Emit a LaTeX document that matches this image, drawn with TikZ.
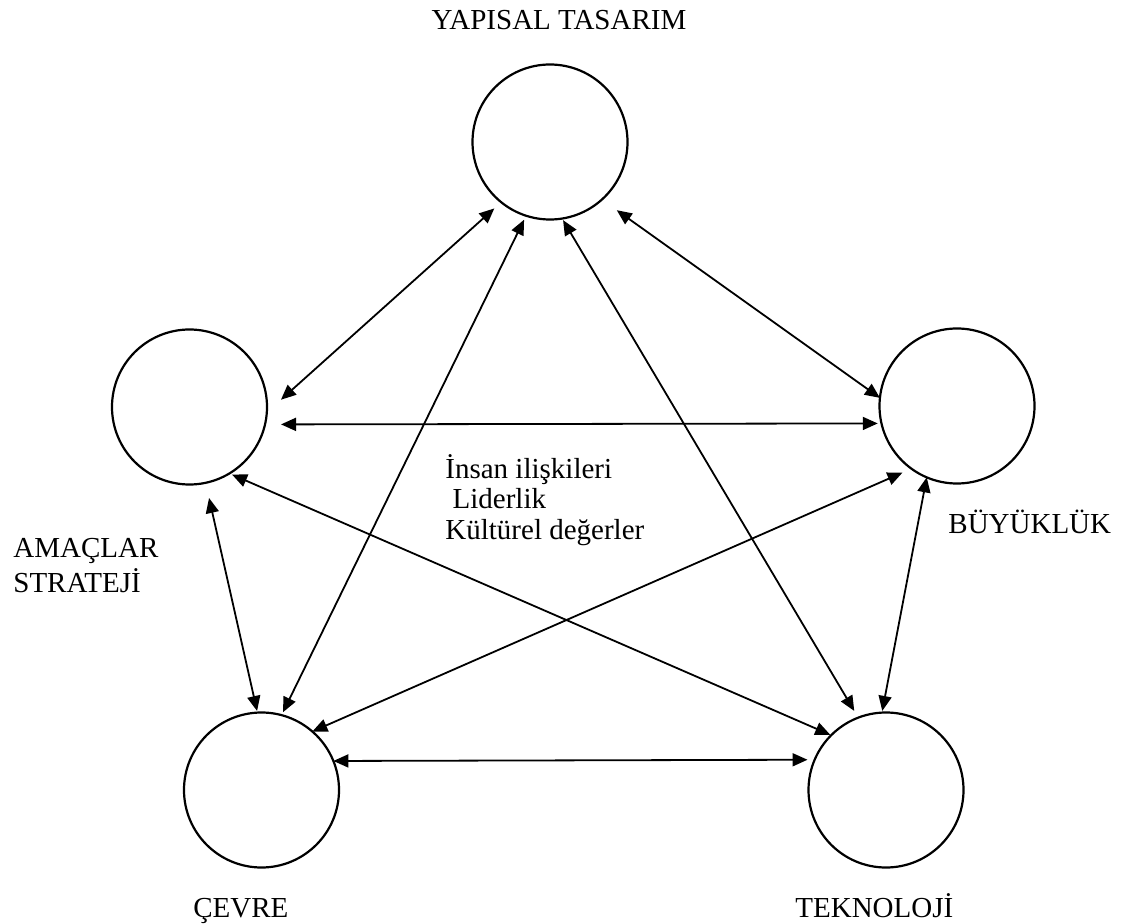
\documentclass[tikz,border=0pt]{standalone}
\usepackage{fontspec}
\setmainfont{Liberation Serif}
\usetikzlibrary{arrows.meta}
\begin{document}
\begin{tikzpicture}[x=0.5pt,y=-0.5pt,
  factor/.style={circle,draw,line width=1.1pt,minimum size=77.5pt,inner sep=0pt,outer sep=0pt},
  link/.style={{Triangle[length=7.5pt,width=6.5pt]}-{Triangle[length=7.5pt,width=6.5pt]},line width=0.9pt},
  note/.style={font=\fontsize{14.5pt}{17pt}\selectfont,inner sep=0pt,anchor=base west}]
\useasboundingbox (0,0) rectangle (1123,924);

% the five factors
\node[factor] (yap) at (550,142) {};
\node[factor] (ama) at (189.5,407) {};
\node[factor] (buy) at (957,406) {};
\node[factor] (cev) at (261.5,790) {};
\node[factor] (tek) at (886,790) {};

% mutual influences
\draw[link, shorten <=4.65pt, shorten >=9.5pt] (yap.231.7) -- (ama.-4.2);
\draw[link, shorten <=9.15pt] (yap.312.3) -- (buy.174.8);
\draw[link, shorten <=2.23pt, shorten >=1.61pt] (yap.252.7) -- (cev.75.75);
\draw[link, shorten <=0.94pt, shorten >=3.9pt] (yap.279.7) -- (tek.111.2);
\draw[link, shorten >=0.86pt] (buy.247.1) -- (tek.93.9);
\draw[link, shorten <=8pt, shorten >=1.87pt] (ama.-13.05) -- (buy.193.8);
\draw[link, shorten <=1.43pt, shorten >=0.53pt] (ama.301.8) -- (tek.135.2);
\draw[link, shorten <=7.78pt, shorten >=0.84pt] (ama.282) -- (cev.93.4);
\draw[link, shorten <=4.9pt] (buy.234.5) -- (cev.49.1);
\draw[link, shorten >=3.57pt] (cev.22.07) -- (tek.157.9);

% names of the factors
\node[note, anchor=base] (nyap) at (559,30) {YAPISAL TASARIM};
\node[note] (nama1) at (13,557) {AMAÇLAR};
\node[note] (nama2) at (13,592) {STRATEJİ};
\node[note] (nbuy) at (948,533) {BÜYÜKLÜK};
\node[note] (ncev) at (193,917) {ÇEVRE};
\node[note] (ntek) at (795,917) {TEKNOLOJİ};

% human side in the middle
\node[note] (h1) at (445,479) {İnsan ilişkileri};
\node[note] (h2) at (445,509) {\ Liderlik};
\node[note] (h3) at (445,539) {Kültürel değerler};
\end{tikzpicture}
\end{document}
